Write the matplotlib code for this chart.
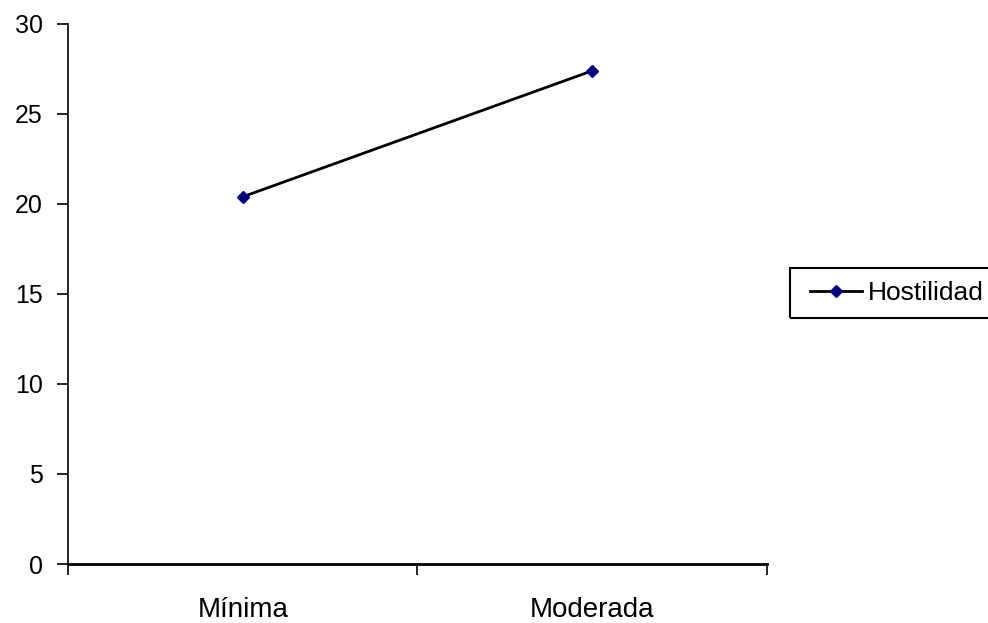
import matplotlib.pyplot as plt
from matplotlib.patches import Rectangle

categories = ["Mínima", "Moderada"]
hostilidad = [20.4, 27.4]
y_ticks = [0, 5, 10, 15, 20, 25, 30]

plt.rcParams["font.family"] = "Liberation Sans"

fig = plt.figure(figsize=(9.88, 6.23), dpi=100)
ax = fig.add_axes([0.0688, 0.0947, 0.7075, 0.8668])

positions = [i + 0.5 for i in range(len(categories))]
ax.plot(positions, hostilidad, color="black", linewidth=2,
        marker="D", markersize=6, markerfacecolor="#000080",
        markeredgecolor="#000080", label="Hostilidad")

ax.set_xlim(0, len(categories))
ax.set_ylim(0, 30)
ax.set_yticks(y_ticks)
ax.set_yticklabels([str(v) for v in y_ticks], fontsize=18)

# category boundaries get ticks, names sit between them
ax.set_xticks(range(len(categories) + 1))
ax.set_xticklabels([])
ax.set_xticks(positions, minor=True)
ax.set_xticklabels(categories, minor=True, fontsize=20)
ax.tick_params(axis="x", which="minor", length=0, pad=24)
ax.tick_params(axis="x", which="major", length=8, width=1.2, direction="out")
ax.tick_params(axis="y", length=8, width=1.2, direction="out", pad=10)

for side in ["top", "right"]:
    ax.spines[side].set_visible(False)
ax.spines["left"].set_linewidth(1.2)
ax.spines["bottom"].set_linewidth(2)

# legend box runs past the right edge of the figure
fig.patches.append(Rectangle((790 / 988, 305 / 623), 0.3, 50 / 623,
                             transform=fig.transFigure, fill=False,
                             edgecolor="black", linewidth=1.5))
fig.legend(*ax.get_legend_handles_labels(), loc="center left",
           bbox_to_anchor=(810 / 988, 330 / 623), bbox_transform=fig.transFigure,
           frameon=False, handlelength=1.97, handletextpad=0.23,
           borderpad=0, borderaxespad=0, prop={"size": 19})

plt.savefig("out.png", dpi=100)
